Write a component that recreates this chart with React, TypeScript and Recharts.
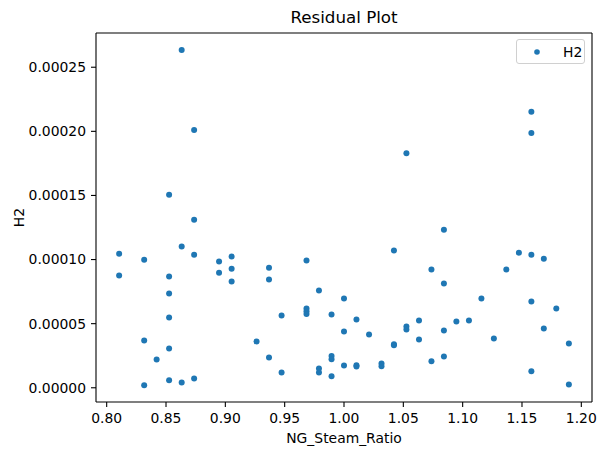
import React from 'react';
import { ScatterChart, Scatter, XAxis, YAxis, Legend, Label, ReferenceLine } from 'recharts';

const ngSteamRatio = [
  0.8105, 0.8105, 0.8316, 0.8316, 0.8316, 0.8421, 0.8526, 0.8526, 0.8526, 0.8526,
  0.8526, 0.8526, 0.8632, 0.8632, 0.8632, 0.8737, 0.8737, 0.8737, 0.8737, 0.8947,
  0.8947, 0.9053, 0.9053, 0.9053, 0.9263, 0.9368, 0.9368, 0.9368, 0.9474, 0.9474,
  0.9684, 0.9684, 0.9684, 0.9684, 0.9789, 0.9789, 0.9789, 0.9895, 0.9895, 0.9895,
  0.9895, 1.0, 1.0, 1.0, 1.0105, 1.0105, 1.0105, 1.0211, 1.0316, 1.0316,
  1.0421, 1.0421, 1.0421, 1.0526, 1.0526, 1.0526, 1.0632, 1.0632, 1.0737, 1.0737,
  1.0842, 1.0842, 1.0842, 1.0842, 1.0947, 1.1053, 1.1158, 1.1263, 1.1368, 1.1474,
  1.1579, 1.1579, 1.1579, 1.1579, 1.1579, 1.1684, 1.1684, 1.1789, 1.1895, 1.1895,
];

const h2Residual = [
  0.0001046, 0.0000875, 0.0000999, 0.0000369, 0.0000019, 0.0000221, 0.0001505, 0.0000867, 0.0000735, 0.0000548,
  0.0000307, 0.0000058, 0.0002634, 0.0001101, 0.0000042, 0.0002011, 0.0001311, 0.0001038, 0.0000073, 0.0000984,
  0.0000898, 0.0001023, 0.0000929, 0.0000828, 0.0000361, 0.0000937, 0.0000844, 0.0000237, 0.0000564, 0.000012,
  0.0000992, 0.0000618, 0.0000597, 0.0000576, 0.0000758, 0.0000151, 0.000012, 0.0000571, 0.0000247, 0.0000223,
  0.0000089, 0.0000696, 0.0000439, 0.0000174, 0.0000532, 0.0000175, 0.0000166, 0.0000416, 0.000019, 0.0000167,
  0.000107, 0.000034, 0.0000331, 0.0001829, 0.0000478, 0.0000455, 0.0000525, 0.0000377, 0.0000922, 0.0000206,
  0.0001233, 0.0000813, 0.0000447, 0.0000244, 0.0000517, 0.0000525, 0.0000696, 0.0000385, 0.0000922, 0.0001054,
  0.0002152, 0.0001988, 0.0001038, 0.0000673, 0.0000128, 0.0001007, 0.0000462, 0.0000618, 0.0000346, 0.0000026,
];

const xTicks = [0.8, 0.85, 0.9, 0.95, 1.0, 1.05, 1.1, 1.15, 1.2];
const yTicks = [0, 0.00005, 0.0001, 0.00015, 0.0002, 0.00025];

const points = ngSteamRatio.map((x, i) => ({ x, y: h2Residual[i] }));

const FONT = '"DejaVu Sans", sans-serif';
const BLUE = '#1f77b4';
const xDomain: [number, number] = [0.791, 1.209];
const yDomain: [number, number] = [-0.0000111, 0.0002767];

const Dot = (p: any) => <circle cx={p.cx} cy={p.cy} r={3} fill={BLUE} />;

// matplotlib-style legend box, top-right
const renderLegend = () => (
  <div style={{
    width: 69, height: 25, boxSizing: 'border-box', border: '1px solid #d0d0d0', borderRadius: 3,
    background: 'rgba(255,255,255,0.8)', display: 'flex', alignItems: 'center', fontFamily: FONT, fontSize: 13.9, color: '#000',
  }}>
    <svg width={46} height={23} style={{ flex: 'none' }}><circle cx={20} cy={12} r={2.8} fill={BLUE} /></svg>
    <span style={{ lineHeight: '16px' }}>H2</span>
  </div>
);

export default function App() {
  const tick = { fill: '#000', fontSize: 13.9, fontFamily: FONT };
  const line = { stroke: '#000', strokeWidth: 1.1 };
  return (
    <div style={{ position: 'absolute', left: 0, top: 0, width: 607, height: 455, background: '#fff' }}>
      <div style={{ position: 'absolute', left: 96, top: 7, width: 496, textAlign: 'center', fontFamily: FONT, fontSize: 16.7, lineHeight: '20px', color: '#000' }}>
        Residual Plot
      </div>
      <ScatterChart width={607} height={455} margin={{ top: 33, right: 15, bottom: 0, left: 0 }}>
        <XAxis type="number" dataKey="x" domain={xDomain} ticks={xTicks} allowDataOverflow height={53}
          tickFormatter={(v: number) => v.toFixed(2)} tick={tick} tickSize={5} tickMargin={6}
          axisLine={line} tickLine={line}>
          <Label value="NG_Steam_Ratio" position="insideBottom" offset={12} style={{ fill: '#000', fontSize: 13.9, fontFamily: FONT }} />
        </XAxis>
        <YAxis type="number" dataKey="y" domain={yDomain} ticks={yTicks} allowDataOverflow width={96}
          tickFormatter={(v: number) => v.toFixed(5)} tick={tick} tickSize={5} tickMargin={5}
          axisLine={line} tickLine={line}>
          <Label value="H2" angle={-90} position="insideLeft" offset={19} style={{ fill: '#000', fontSize: 13.9, fontFamily: FONT, textAnchor: 'middle' }} />
        </YAxis>
        <ReferenceLine y={yDomain[1]} stroke="#000" strokeWidth={1.1} />
        <ReferenceLine x={xDomain[1]} stroke="#000" strokeWidth={1.1} />
        <Legend content={renderLegend} layout="horizontal" verticalAlign="middle"
          wrapperStyle={{ left: 516, top: 39, width: 69, height: 25 }} />
        <Scatter name="H2" data={points} fill={BLUE} shape={Dot} isAnimationActive={false} />
      </ScatterChart>
    </div>
  );
}
